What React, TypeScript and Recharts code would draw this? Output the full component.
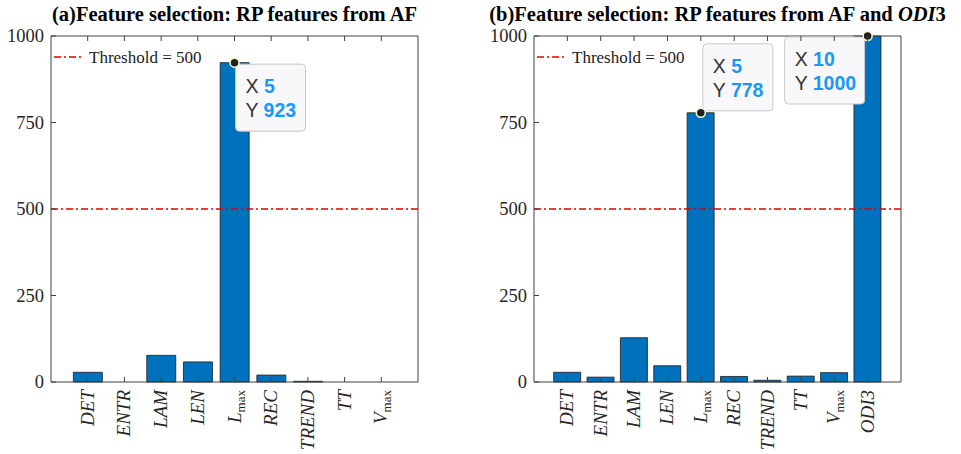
import React from 'react';
import { BarChart, Bar, XAxis, YAxis, ReferenceLine, ReferenceDot } from 'recharts';

const catsA = ['DET', 'ENTR', 'LAM', 'LEN', 'Lmax', 'REC', 'TREND', 'TT', 'Vmax'];
const valsA = [28, 0, 77, 58, 923, 20, 2, 0, 0];
const catsB = ['DET', 'ENTR', 'LAM', 'LEN', 'Lmax', 'REC', 'TREND', 'TT', 'Vmax', 'ODI3'];
const valsB = [28, 14, 128, 47, 778, 16, 5, 17, 27, 1000];
const yTicks = [0, 250, 500, 750, 1000];
const threshold = 500;
const tipsA = [{ x: 5, y: 923, place: 'br' }];
const tipsB = [
  { x: 5, y: 778, place: 'tr' },
  { x: 10, y: 1000, place: 'bl' },
];

const AXIS = '#404040';
const SERIF = '"Liberation Serif", "Times New Roman", serif';
const SANS = '"Liberation Sans", Arial, sans-serif';

function XLabel(props: any) {
  const { x, y, payload, cats } = props;
  const name: string = cats[payload.value - 1] ?? '';
  const sub = name.endsWith('max') ? name.slice(0, -3) : null;
  return (
    <g>
      <line x1={x} x2={x} y1={y} y2={y - 5} stroke={AXIS} />
      <text
        transform={`translate(${x + 6},${y + 8}) rotate(-90)`}
        textAnchor="end"
        fontFamily={SERIF}
        fontSize={19}
        fill="#262626"
      >
        {sub ? (
          <>
            <tspan fontStyle="italic">{sub}</tspan>
            <tspan fontSize={13} dy={4}>max</tspan>
          </>
        ) : (
          <tspan fontStyle="italic">{name}</tspan>
        )}
      </text>
    </g>
  );
}

function TopTick(props: any) {
  const { x, y } = props;
  return <line x1={x} x2={x} y1={y} y2={y + 5} stroke={AXIS} />;
}

function YLabel(props: any) {
  const { x, y, payload } = props;
  return (
    <g>
      <line x1={x} x2={x + 5} y1={y} y2={y} stroke={AXIS} />
      <text x={x - 7} y={y + 6} textAnchor="end" fontFamily={SERIF} fontSize={18.5} fill="#262626">
        {payload.value}
      </text>
    </g>
  );
}

function RightTick(props: any) {
  const { x, y } = props;
  return <line x1={x} x2={x - 5} y1={y} y2={y} stroke={AXIS} />;
}

function DataTip(props: any) {
  const { cx, cy, tip } = props;
  const w = tip.y >= 1000 ? 80 : 70;
  const h = 67;
  let bx = cx + 1;
  let by = cy + 1.5;
  if (tip.place === 'tr') {
    bx = cx + 2;
    by = cy - h - 2;
  } else if (tip.place === 'bl') {
    bx = cx - w - 3;
    by = cy + 1;
  }
  return (
    <g>
      <rect x={bx} y={by} width={w} height={h} rx={4} fill="#f8f8fb" stroke="#c8c8c8" />
      <text x={bx + 10} y={by + 29} fontFamily={SANS} fontSize={19.5}>
        <tspan fill="#333">X </tspan>
        <tspan fill="#1b98f5" fontWeight="bold">{tip.x}</tspan>
      </text>
      <text x={bx + 10} y={by + 53} fontFamily={SANS} fontSize={19.5}>
        <tspan fill="#333">Y </tspan>
        <tspan fill="#1b98f5" fontWeight="bold">{tip.y}</tspan>
      </text>
      <circle cx={cx} cy={cy} r={4.5} fill="#222" stroke="#fffbd0" strokeWidth={1.5} />
    </g>
  );
}

function Panel(props: {
  cats: string[];
  vals: number[];
  tips: { x: number; y: number; place: string }[];
  title: React.ReactNode;
  left: number;
  leftW: number;
  barSize: number;
}) {
  const { cats, vals, tips, title, left, leftW, barSize } = props;
  const n = cats.length;
  const data = cats.map((c, i) => ({ x: i + 1, name: c, v: vals[i] }));
  const ticks = cats.map((_, i) => i + 1);
  const plotW = 367;
  return (
    <div style={{ position: 'absolute', left, top: 0, width: 480, height: 454 }}>
      <div
        style={{
          position: 'absolute',
          left: leftW - 60,
          width: plotW + 120,
          top: 3,
          textAlign: 'center',
          fontFamily: SERIF,
          fontWeight: 'bold',
          fontSize: 20.5,
          whiteSpace: 'nowrap',
          color: '#000',
        }}
      >
        {title}
      </div>
      <BarChart
        width={480}
        height={454}
        data={data}
        margin={{ top: 35, right: 480 - leftW - plotW - 1, bottom: 0, left: 0 }}
      >
        <XAxis
          dataKey="x"
          type="number"
          domain={[0, n + 1]}
          ticks={ticks}
          allowDataOverflow
          height={72}
          tickSize={0}
          tickMargin={0}
          tickLine={false}
          axisLine={{ stroke: AXIS }}
          interval={0}
          tick={(p: any) => <XLabel {...p} cats={cats} />}
        />
        <XAxis
          xAxisId="top"
          orientation="top"
          dataKey="x"
          type="number"
          domain={[0, n + 1]}
          ticks={ticks}
          height={1}
          tickSize={0}
          tickMargin={0}
          tickLine={false}
          axisLine={{ stroke: AXIS }}
          interval={0}
          tick={(p: any) => <TopTick {...p} />}
        />
        <YAxis
          domain={[0, 1000]}
          ticks={yTicks}
          width={leftW}
          tickSize={0}
          tickMargin={0}
          tickLine={false}
          axisLine={{ stroke: AXIS }}
          interval={0}
          tick={(p: any) => <YLabel {...p} />}
        />
        <YAxis
          yAxisId="r"
          orientation="right"
          domain={[0, 1000]}
          ticks={yTicks}
          width={1}
          tickSize={0}
          tickMargin={0}
          tickLine={false}
          axisLine={{ stroke: AXIS }}
          interval={0}
          tick={(p: any) => <RightTick {...p} />}
        />
        <Bar dataKey="v" fill="#0072BD" stroke="#1a1a1a" strokeWidth={0.8} barSize={barSize} isAnimationActive={false} />
        <ReferenceLine y={threshold} stroke="#e00000" strokeWidth={1.3} strokeDasharray="7 3 2 3" />
        {tips.map((t) => (
          <ReferenceDot
            key={t.x}
            x={t.x}
            y={t.y}
            ifOverflow="visible"
            shape={(p: any) => <DataTip {...p} tip={t} />}
          />
        ))}
      </BarChart>
      <svg style={{ position: 'absolute', left: leftW + 3, top: 47 }} width={170} height={22}>
        <line x1={0} x2={29} y1={10} y2={10} stroke="#e00000" strokeWidth={1.3} strokeDasharray="7 3 2 3" />
        <text x={35} y={16} fontFamily={SERIF} fontSize={17} fill="#222">
          Threshold = 500
        </text>
      </svg>
    </div>
  );
}

export default function App() {
  return (
    <div style={{ position: 'absolute', left: 0, top: 0, width: 961, height: 454, background: '#fff' }}>
      <Panel
        cats={catsA}
        vals={valsA}
        tips={tipsA}
        left={0}
        leftW={51}
        barSize={29}
        title="(a)Feature selection: RP features from AF"
      />
      <Panel
        cats={catsB}
        vals={valsB}
        tips={tipsB}
        left={480}
        leftW={54}
        barSize={27}
        title={
          <>
            (b)Feature selection: RP features from AF and <i>ODI</i>3
          </>
        }
      />
    </div>
  );
}
